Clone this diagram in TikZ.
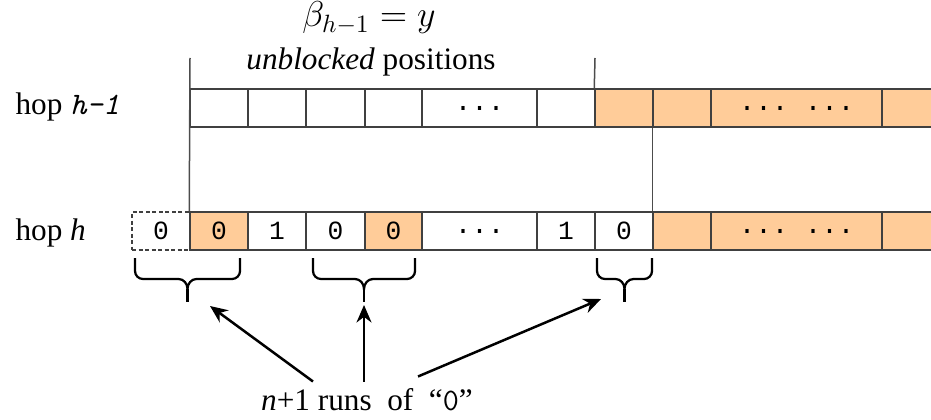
\documentclass[tikz,border=0pt]{standalone}
\usepackage{fontspec}
\setmainfont{Liberation Serif}
\setmonofont{Liberation Mono}
\newfontfamily\lmtt{Latin Modern Mono}
\usetikzlibrary{arrows.meta}
\definecolor{blocked}{HTML}{FFCC99}

\newcommand{\celldots}{{\fontsize{11pt}{12pt}\selectfont...}}
\newcommand{\celldotsii}{{\fontsize{11pt}{12pt}\selectfont...~...}}
% curly brace under a run of zeros, #3 = name of its tip
\newcommand{\runbrace}[3]{%
  \pgfmathsetmacro\bmid{(#1+#2)/2}%
  \draw[brc] (#1,258) -- (#1,271) to[out=-90,in=180] (#1+8,279)
    -- (\bmid-9,279) to[out=0,in=90] (\bmid,289)
    to[out=90,in=180] (\bmid+9,279) -- (#2-8,279)
    to[out=0,in=-90] (#2,271) -- (#2,258);
  \coordinate (#3) at (\bmid,302);
  \draw[brc] (\bmid,289) -- (#3);}

\begin{document}
\begin{tikzpicture}[x=0.4pt, y=-0.4pt,
  font=\fontsize{12.5pt}{15pt}\selectfont,
  cell/.style={draw=black!75, line width=0.6pt, minimum height=15.2pt,
               inner sep=0pt, font=\fontsize{10.5pt}{11pt}\selectfont\ttfamily},
  guide/.style={draw=black!70, line width=0.6pt},
  brc/.style={line width=0.9pt},
  arr/.style={-{Stealth[length=7pt,width=6pt]}, line width=1pt},
]
  \useasboundingbox (0,0) rectangle (931,419);
  \clip (0,0) rectangle (931,419);

  % Titel oben
  \node[anchor=base, inner sep=0pt] (beta) at (369,27)
    {\fontsize{14.5pt}{16pt}\selectfont$\beta_{h-1} = y$};
  \node[anchor=base, inner sep=0pt] (unbl) at (371,70) {\textit{unblocked} positions};

  % Zeile hop h-1
  \node[anchor=base west, inner sep=0pt] (lup) at (15,115) {hop {\lmtt\itshape h-1}};
  \foreach \l/\r/\f/\t [count=\i] in {190/248/white/{}, 248/306/white/{},
      306/365/white/{}, 365/422/white/{}, 422/537/white/\celldots,
      537/595/white/{}, 595/653/blocked/{}, 653/711/blocked/{},
      711/882/blocked/\celldotsii, 882/945/blocked/{}}
    \node[cell, fill=\f, minimum width={(\r-\l)*0.4pt}] (u\i) at ({(\l+\r)/2},108) {\t};

  % Zeile hop h
  \node[anchor=base west, inner sep=0pt] (ldn) at (15,240) {hop \textit{h}};
  \node[cell, dash pattern=on 1.6pt off 1pt, minimum width=23.2pt] (b0) at (161,231) {0};
  \foreach \l/\r/\f/\t [count=\i] in {190/248/blocked/0, 248/306/white/1,
      306/365/white/0, 365/422/blocked/0, 422/537/white/\celldots,
      537/595/white/1, 595/653/white/0, 653/711/blocked/{},
      711/882/blocked/\celldotsii, 882/945/blocked/{}}
    \node[cell, fill=\f, minimum width={(\r-\l)*0.4pt}] (b\i) at ({(\l+\r)/2},231) {\t};

  % Hilfslinien
  \coordinate (lt) at (190,58);
  \coordinate (rt) at (595,58);
  \draw[guide] (lt) -- (b1.north west);
  \draw[guide] (rt) -- (u7.north west);
  \draw[guide] (u8.south west) -- (b8.north west);

  % Klammern
  \runbrace{135}{240}{t1}
  \runbrace{313}{415}{t2}
  \runbrace{597}{652}{t3}

  % Beschriftung und Pfeile
  \node[anchor=base, inner sep=0pt] (runs) at (367,410)
    {\textit{n}+1 runs\ \ of\ \ “{\lmtt 0}”};
  \coordinate (p1) at (210,306);
  \coordinate (p2) at (364,305);
  \coordinate (p3) at (601,299);
  \draw[arr] ([shift={(-54,-6)}]runs.north) -- (p1);
  \draw[arr] ([shift={(-3,-6)}]runs.north) -- (p2);
  \draw[arr] ([shift={(51,-11)}]runs.north) -- (p3);
\end{tikzpicture}
\end{document}
